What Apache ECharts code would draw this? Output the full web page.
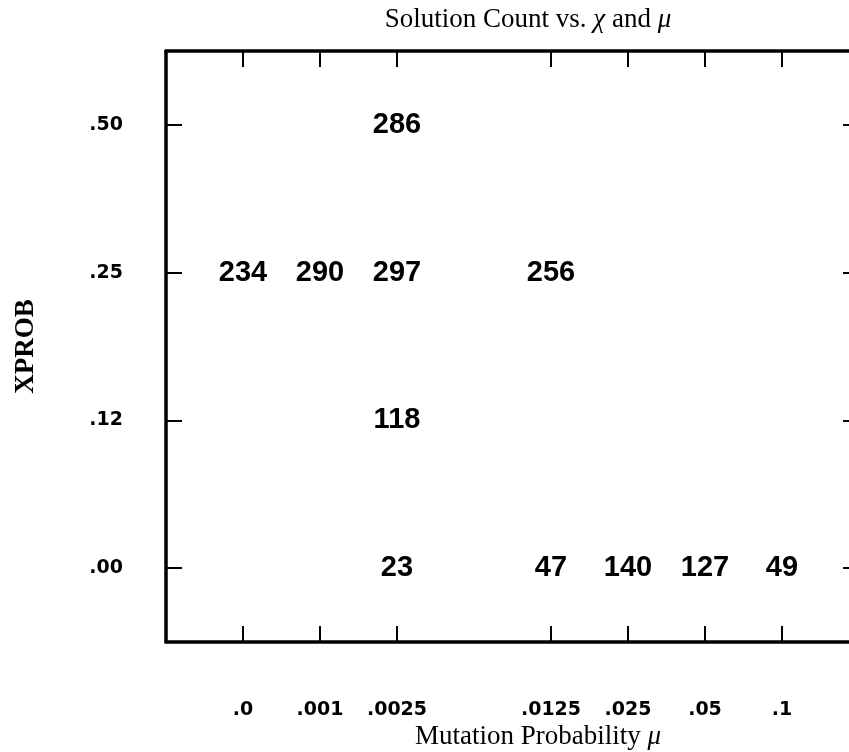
<!DOCTYPE html>
<html>
<head>
<meta charset="utf-8">
<script src="https://cdn.jsdelivr.net/npm/echarts@6/dist/echarts.min.js"></script>
<style>html,body{margin:0;padding:0;background:#fff;overflow:hidden;}#c{width:870px;height:752px;}</style>
</head>
<body>
<div id="c"></div>
<script>
// Mutation probability categories (one unlabeled slot between .0025 and .0125)
const muCategories = ['.0', '.001', '.0025', '', '.0125', '.025', '.05', '.1'];
// XPROB categories (bottom to top)
const xprobCategories = ['.00', '.12', '.25', '.50'];
// Solution counts per XPROB row, aligned with muCategories
const countsX050 = [null, null, 286, null, null, null, null, null];
const countsX025 = [234, 290, 297, null, 256, null, null, null];
const countsX012 = [null, null, 118, null, null, null, null, null];
const countsX000 = [null, null, 23, null, 47, 140, 127, 49];

const rows = [countsX000, countsX012, countsX025, countsX050];
const points = [];
rows.forEach((row, yi) => {
  row.forEach((v, xi) => {
    if (v !== null) points.push([xi + 1, yi, v]);
  });
});
const xAxisData = [''].concat(muCategories, ['']);

const chart = echarts.init(document.getElementById('c'));
const tickFn = (idx, val) => val !== '';
const lineStyle = { color: '#000', width: 3.5 };
const tickStyle = { color: '#000', width: 2 };
const labelFont = { color: '#000', fontFamily: 'DejaVu Sans', fontWeight: 'bold', fontSize: 19 };
const serifRich = {
  r: { fontFamily: 'Liberation Serif', fontSize: 27, fill: '#000', color: '#000' },
  i: { fontFamily: 'Liberation Serif', fontStyle: 'italic', fontSize: 27, fill: '#000', color: '#000' }
};

chart.setOption({
  animation: false,
  backgroundColor: '#fff',
  grid: { left: 166, top: 51, width: 693, height: 591, containLabel: false, outerBoundsMode: 'none' },
  graphic: [
    {
      type: 'text', x: 528, y: 20,
      style: {
        text: '{r|Solution Count vs. }{i|χ}{r| and }{i|μ}',
        rich: serifRich,
        align: 'center', verticalAlign: 'middle'
      }
    },
    {
      type: 'text', x: 538, y: 737,
      style: {
        text: '{r|Mutation Probability }{i|μ}',
        rich: serifRich,
        align: 'center', verticalAlign: 'middle'
      }
    }
  ],
  xAxis: [
    {
      type: 'category', data: xAxisData, boundaryGap: false, position: 'bottom',
      axisLine: { show: true, lineStyle: lineStyle },
      axisTick: { show: true, inside: true, length: 16, interval: tickFn, lineStyle: tickStyle },
      axisLabel: Object.assign({ interval: 0, margin: 59 }, labelFont),
      splitLine: { show: false }
    },
    {
      type: 'category', data: xAxisData, boundaryGap: false, position: 'top',
      axisLine: { show: true, lineStyle: lineStyle },
      axisTick: { show: true, inside: true, length: 16, interval: tickFn, lineStyle: tickStyle },
      axisLabel: { show: false },
      splitLine: { show: false }
    }
  ],
  yAxis: [
    {
      type: 'category', data: xprobCategories, position: 'left',
      name: 'XPROB', nameLocation: 'middle', nameRotate: 90, nameGap: 126,
      nameTextStyle: { fontFamily: 'Liberation Serif', fontWeight: 'bold', fontSize: 27, color: '#000' },
      axisLine: { show: true, lineStyle: lineStyle },
      axisTick: { show: true, inside: true, length: 16, alignWithLabel: true, lineStyle: tickStyle },
      axisLabel: Object.assign({ margin: 43 }, labelFont),
      splitLine: { show: false }
    },
    {
      type: 'category', data: xprobCategories, position: 'right',
      axisLine: { show: true, lineStyle: lineStyle },
      axisTick: { show: true, inside: true, length: 16, alignWithLabel: true, lineStyle: tickStyle },
      axisLabel: { show: false },
      splitLine: { show: false }
    }
  ],
  series: [{
    type: 'scatter',
    xAxisIndex: 0, yAxisIndex: 0,
    symbolSize: 0,
    itemStyle: { color: '#000' },
    data: points,
    label: {
      show: true, position: 'inside',
      formatter: p => String(p.value[2]),
      color: '#000', textBorderWidth: 0, opacity: 1,
      fontFamily: 'Liberation Sans', fontWeight: 'bold', fontSize: 29
    }
  }]
});
</script>
</body>
</html>
